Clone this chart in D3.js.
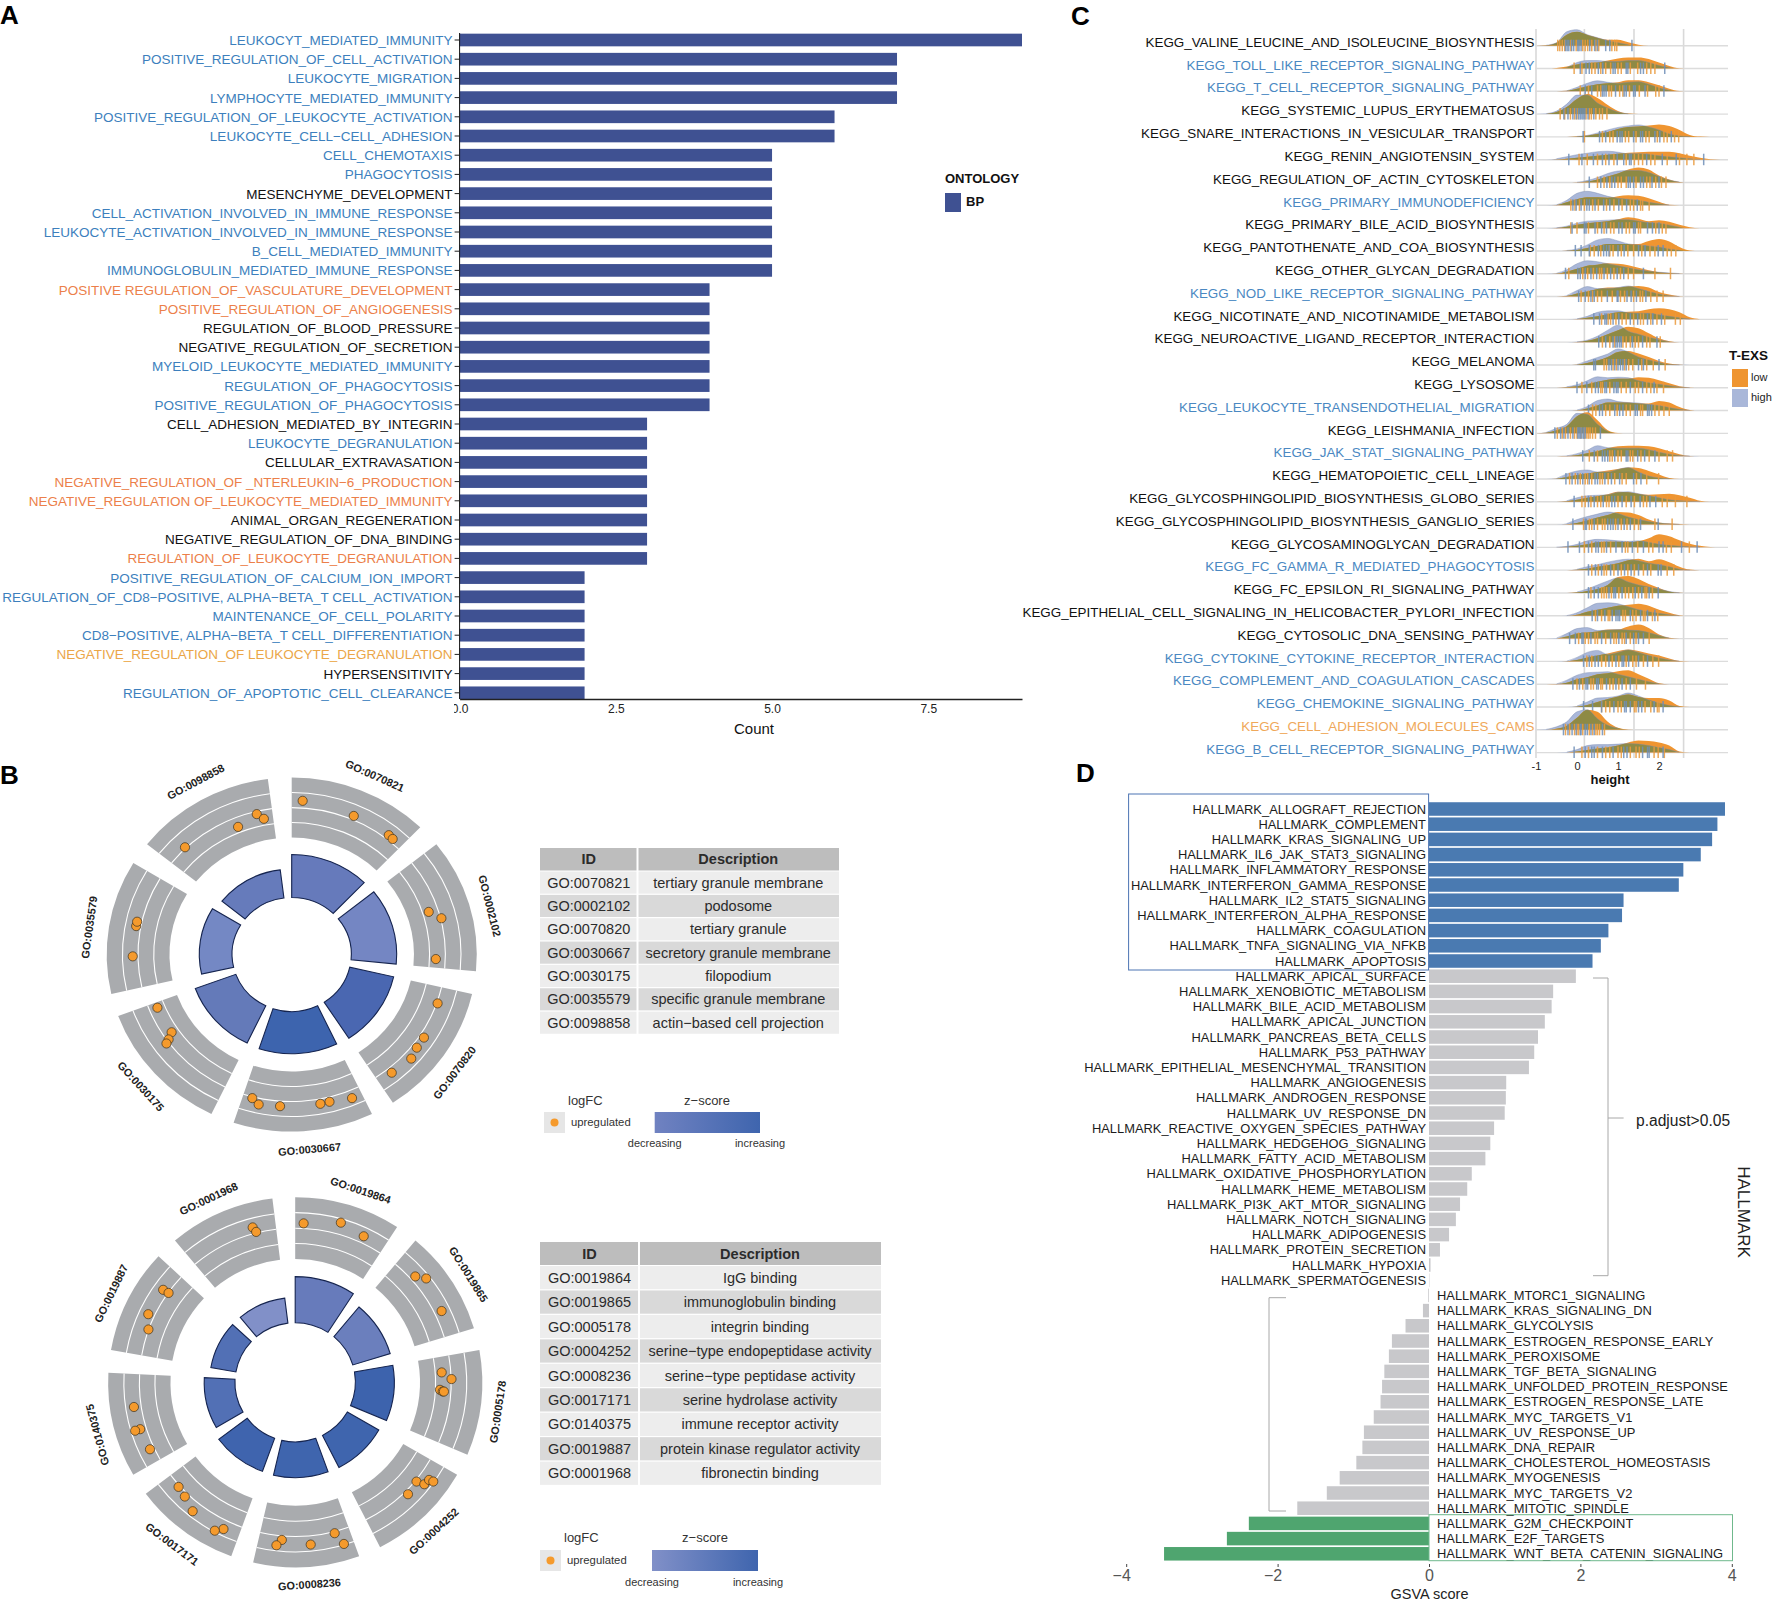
<!DOCTYPE html>
<html><head><meta charset="utf-8">
<script src="https://cdnjs.cloudflare.com/ajax/libs/d3/7.8.5/d3.min.js"></script>
<style>html,body{margin:0;padding:0;background:#fff}svg{display:block;font-family:"Liberation Sans",Arial,sans-serif}</style>
</head><body><svg id="c" width="1772" height="1600"></svg>
<script>
// ---------- Panel A ----------
const aTerms=["LEUKOCYT_MEDIATED_IMMUNITY","POSITIVE_REGULATION_OF_CELL_ACTIVATION","LEUKOCYTE_MIGRATION","LYMPHOCYTE_MEDIATED_IMMUNITY","POSITIVE_REGULATION_OF_LEUKOCYTE_ACTIVATION","LEUKOCYTE_CELL−CELL_ADHESION","CELL_CHEMOTAXIS","PHAGOCYTOSIS","MESENCHYME_DEVELOPMENT","CELL_ACTIVATION_INVOLVED_IN_IMMUNE_RESPONSE","LEUKOCYTE_ACTIVATION_INVOLVED_IN_IMMUNE_RESPONSE","B_CELL_MEDIATED_IMMUNITY","IMMUNOGLOBULIN_MEDIATED_IMMUNE_RESPONSE","POSITIVE REGULATION_OF_VASCULATURE_DEVELOPMENT","POSITIVE_REGULATION_OF_ANGIOGENESIS","REGULATION_OF_BLOOD_PRESSURE","NEGATIVE_REGULATION_OF_SECRETION","MYELOID_LEUKOCYTE_MEDIATED_IMMUNITY","REGULATION_OF_PHAGOCYTOSIS","POSITIVE_REGULATION_OF_PHAGOCYTOSIS","CELL_ADHESION_MEDIATED_BY_INTEGRIN","LEUKOCYTE_DEGRANULATION","CELLULAR_EXTRAVASATION","NEGATIVE_REGULATION_OF _NTERLEUKIN−6_PRODUCTION","NEGATIVE_REGULATION OF_LEUKOCYTE_MEDIATED_IMMUNITY","ANIMAL_ORGAN_REGENERATION","NEGATIVE_REGULATION_OF_DNA_BINDING","REGULATION_OF_LEUKOCYTE_DEGRANULATION","POSITIVE_REGULATION_OF_CALCIUM_ION_IMPORT","REGULATION_OF_CD8−POSITIVE, ALPHA−BETA_T CELL_ACTIVATION","MAINTENANCE_OF_CELL_POLARITY","CD8−POSITIVE, ALPHA−BETA_T CELL_DIFFERENTIATION","NEGATIVE_REGULATION_OF LEUKOCYTE_DEGRANULATION","HYPERSENSITIVITY","REGULATION_OF_APOPTOTIC_CELL_CLEARANCE"];
const aCounts=[9,7,7,7,6,6,5,5,5,5,5,5,5,4,4,4,4,4,4,4,3,3,3,3,3,3,3,3,2,2,2,2,2,2,2];
const aClass=["b","b","b","b","b","b","b","b","k","b","b","b","b","o","o","k","k","b","b","b","k","b","k","o","o","k","k","o","b","b","b","b","y","k","b"];
const aTicks=[0,2.5,5,7.5];
const termColors={b:"#3c7fbd",k:"#111",o:"#ec7f4a",y:"#eba648"};

// ---------- Panel C ----------
const cTerms=["KEGG_VALINE_LEUCINE_AND_ISOLEUCINE_BIOSYNTHESIS","KEGG_TOLL_LIKE_RECEPTOR_SIGNALING_PATHWAY","KEGG_T_CELL_RECEPTOR_SIGNALING_PATHWAY","KEGG_SYSTEMIC_LUPUS_ERYTHEMATOSUS","KEGG_SNARE_INTERACTIONS_IN_VESICULAR_TRANSPORT","KEGG_RENIN_ANGIOTENSIN_SYSTEM","KEGG_REGULATION_OF_ACTIN_CYTOSKELETON","KEGG_PRIMARY_IMMUNODEFICIENCY","KEGG_PRIMARY_BILE_ACID_BIOSYNTHESIS","KEGG_PANTOTHENATE_AND_COA_BIOSYNTHESIS","KEGG_OTHER_GLYCAN_DEGRADATION","KEGG_NOD_LIKE_RECEPTOR_SIGNALING_PATHWAY","KEGG_NICOTINATE_AND_NICOTINAMIDE_METABOLISM","KEGG_NEUROACTIVE_LIGAND_RECEPTOR_INTERACTION","KEGG_MELANOMA","KEGG_LYSOSOME","KEGG_LEUKOCYTE_TRANSENDOTHELIAL_MIGRATION","KEGG_LEISHMANIA_INFECTION","KEGG_JAK_STAT_SIGNALING_PATHWAY","KEGG_HEMATOPOIETIC_CELL_LINEAGE","KEGG_GLYCOSPHINGOLIPID_BIOSYNTHESIS_GLOBO_SERIES","KEGG_GLYCOSPHINGOLIPID_BIOSYNTHESIS_GANGLIO_SERIES","KEGG_GLYCOSAMINOGLYCAN_DEGRADATION","KEGG_FC_GAMMA_R_MEDIATED_PHAGOCYTOSIS","KEGG_FC_EPSILON_RI_SIGNALING_PATHWAY","KEGG_EPITHELIAL_CELL_SIGNALING_IN_HELICOBACTER_PYLORI_INFECTION","KEGG_CYTOSOLIC_DNA_SENSING_PATHWAY","KEGG_CYTOKINE_CYTOKINE_RECEPTOR_INTERACTION","KEGG_COMPLEMENT_AND_COAGULATION_CASCADES","KEGG_CHEMOKINE_SIGNALING_PATHWAY","KEGG_CELL_ADHESION_MOLECULES_CAMS","KEGG_B_CELL_RECEPTOR_SIGNALING_PATHWAY"];
const cClass=["k","b","b","k","k","k","k","b","k","k","k","b","k","k","k","k","b","k","b","k","k","k","k","b","k","k","k","b","b","b","y","b"];
const densityGrid=[-1,-.75,-.5,-.25,0,.25,.5,.75,1,1.25,1.5,1.75,2,2.25,2.5,2.75,3,3.25,3.5];
const densityHigh=[
[0,.5,3,14,16,11,8,5,3,1,0],[0,0,0,1,6,8,8,7,7,8,8,6,3,1,0],[0,0,0,.5,4,8,10.5,9,8,9,9.5,7,3.5,1,0],[0,.5,3,10,19,19,11,6,2,.3,0],
[0,0,0,0,.5,1.5,4,7,9.5,11,12,10,7,3,1,.2,0],[0,0,1,3,5,6.5,8,8.5,7.5,6,6,5.5,4,3,2,1,.3,0],[0,0,0,0,.2,2,5,9,11.5,12,12,10,6,2.5,.5,0],[0,0,.5,5,12,14,12,9,7,6,5,3,1.5,.3,0],
[0,0,.3,2,5,7,7.5,8,8.5,8.5,7,5.5,5,3,1,0],[0,0,0,.5,2,6,11,12.5,10,7,6,5,4,2,.6,0],[0,0,.5,4,10,13,12,10,8,6,4,2.5,1.5,.8,.2,0],[0,0,0,1,6,10,8,8,9,10.5,8,5,2.5,.8,.1,0],
[0,0,0,0,.5,3,7,8.5,8.5,6.5,6,6,4.5,3,1.5,.3,0],[0,0,0,0,.3,2,6,12,17,11,8,5,2.5,.5,0],[0,0,0,0,.5,4,7.5,11,16,13,8,5,2.5,.5,.1,0],[0,0,0,1,3,7,11,10,10.5,10,7,5,3.5,2,.7,.1,0],
[0,0,0,0,.5,4,10,11.5,9,8,7.5,6,5,3,1.2,.2,0],[0,1,5,9,20,19,9,2,0],[0,0,0,.3,2.5,6,10.5,8.5,8,8,8,6.5,4,2,.7,.1,0],[0,0,.5,5,8,9,7,7,9.5,11.5,7,3,1,.3,0],
[0,0,0,1,4,6,6.5,7,9.5,10,8,6,4,2,1,.5,.1,0],[0,0,0,1,5,8,10.5,12.5,11,7.5,5,3,1.5,.7,.2,0],[0,0,.2,1,3,6.5,8,7.5,6.5,6,6.5,5,3,2,1.2,.7,.3,0],[0,0,0,0,1,3.5,5.5,8,10,11,9.5,7,5.5,3.5,1,.1,0],
[0,0,0,0,1,4,8,12,15,11,8,6,4,1.5,.2,0],[0,0,0,.2,3,8,12.5,13,12,9,6,4,2.5,1,.1,0],[0,0,.5,5,10,11,8,8.5,9,8.5,8,6,3,.5,0],[0,0,0,.3,4,9,11,7,9,11.5,9,6,3.5,1.5,.2,0],
[0,0,.2,4,9,11.5,12,12.5,10,7.5,5,2.5,.5,0],[0,0,0,0,1,5,9,9.5,11,14,11,7,4,1.5,.2,0],[0,.5,3,8,18,20,11,4.5,1.5,0],[0,0,0,.5,3,7,8,8,8.5,9,8.5,7,5,3,.3,0]];
const densityLow=[
[0,.5,3,11,14,11,8,6,6,3.5,1,0],[0,0,.5,2,4,5.5,6,8,10,11,11,9.5,6,2.5,.3,0],[0,0,0,.5,2.5,5,7,8,9,11,11,9,6,2.5,.3,0],[0,.2,2,7,15,20,16,9,3,.5,0],
[0,0,0,0,.5,1.5,3,5,8,10,10.5,11.5,12.5,11,7,2,.3,0],[0,0,.3,1,2,3,4,5,6,7,7.5,8,8,8,6.5,4,2,.5,0],[0,0,0,0,.2,1,3,6,9,13,15,13,7,3,.6,0],[0,0,.3,3,6,8,8,7.5,9,10,9.5,7,3.5,.5,0],
[0,0,.2,1.5,3.5,5,6,7,9,11,9.5,7,8,6.5,3.5,1,0],[0,0,0,.3,1,3,5,7,7,7,7,10,12,9.5,4,.5,0],[0,0,.2,2,5,8,9,10.5,10,8.5,6,3.5,1.5,.8,.2,0],[0,0,0,.5,3,5,7.5,9,9,10,10.5,9,4.5,2,.3,0],
[0,0,0,0,.3,1.5,3,5,7,7.5,8,10,11,10,7,2,.2,0],[0,0,0,0,.2,1.5,4,8,12,15.5,14,9,4,1,0],[0,0,0,0,.2,2,4.5,8,13,14,11.5,8,4,1.5,.3,0],[0,0,0,.5,1.5,3.5,6,8,9,9,10.5,10,7.5,4.5,1.5,.2,0],
[0,0,0,0,.2,2,5,8,8,8,7,7,9.5,8,3.5,.6,0],[0,.5,3,7,17,21,13,3,.3,0],[0,0,0,.1,1,3,5,8,10,10.5,10.5,10,8,5,2,.2,0],[0,0,.3,2,4,5.5,7,8.5,10,11.5,11,8,4.5,1,0],
[0,0,0,.5,2,4,5.5,7.5,10,9.5,8,7,7.5,8,6.5,4,1,0],[0,0,0,.3,1.5,4,7,9.5,12.5,12,9.5,5,2,1,.5,.1,0],[0,0,.1,.5,1.5,3,5,5.5,5.5,5,6,9,13,11,7,3.5,1.5,.3,0],[0,0,0,0,.5,1.5,3.5,5,7,10,11.5,9,11,8,3.5,.6,0],
[0,0,0,0,.4,2,4,8,16,17,14,9,5,1.5,.2,0],[0,0,0,.1,1,4,6,8,10,11,12,10,6,3,.5,0],[0,0,.2,2,5,6,7,9,9,12,14,10.5,4,.8,0],[0,0,0,.2,1.5,4,6,8,10.5,12,10.5,8,6,3,.5,0],
[0,0,.1,1.5,5,7,10,11,13,14,10,5.5,1,0],[0,0,0,0,.3,2,5,8,10.5,12.5,10,9,9,6.5,1,0],[0,.1,1,4,12,20,18,8,2,.3,0],[0,0,0,.2,1,2.5,4,5,7,10,12,11.5,10,7,1,0]];
const rugHigh=[
[-.28,-.24,-.2,-.13,-.08,.02,.05,.1,.31,.43,.5,.7,.8,1.34],[.08,.22,.3,.52,.63,.88,.93,1.2,1.24,1.55,1.62,2.14],[.2,.36,.62,.66,.71,.94,1.15,1.2,1.38,1.42,1.66,2.12],[-.32,-.22,-.1,-.02,.04,.08,.12,.15,.19,.27,.41],
[.15,.55,.7,.98,1.05,1.1,1.38,1.55,1.6,1.9,2.02,2.3],[-.2,.12,.4,.62,.78,.98,1.14,1.28,1.32,1.7,2.08,2.42,3.09],[.3,.58,.73,.85,.92,1.25,1.3,1.38,1.55,1.62,1.83,2.0],[-.1,-.02,.1,.24,.3,.44,.65,.8,1.02,1.21,1.47],
[-.12,.18,.22,.44,.6,.72,1.02,1.1,1.38,1.42,1.72,1.84,2.0],[-.04,.1,.3,.52,.65,.72,.78,1.0,1.15,1.5,1.66,1.98,2.1],[-.28,.02,.08,.2,.34,.48,.66,.82,.98,1.14,1.62],[.04,.2,.34,.42,.74,.98,1.0,1.22,1.32,1.45,1.68],
[.41,.55,.68,.72,.88,1.02,1.3,1.48,1.72,1.85,2.06],[.53,.7,.88,.95,.99,1.04,1.08,1.35,1.6,1.95],[.41,.45,.78,.84,.92,1.0,1.06,1.12,1.2,1.5,1.62,2.0],[0,.24,.45,.52,.68,.72,.9,.96,1.0,1.3,1.6,1.88],
[.28,.55,.62,.92,1.04,1.12,1.42,1.47,1.72,1.76,1.82],[-.54,-.4,-.32,-.22,-.1,.02,.05,.08,.12,.16,.2,.57],[.14,.42,.62,.68,.75,.92,1.2,1.24,1.48,1.65,1.9],[-.27,-.12,.02,.14,.3,.44,.5,.68,.84,1.04,1.38,1.56],
[-.07,.28,.42,.64,.85,.92,1.1,1.32,1.54,1.78,1.92],[-.1,.2,.23,.42,.75,.82,.88,1.0,1.15,1.3,1.55,1.98],[-.22,.06,.28,.46,.52,.72,.95,1.1,1.35,1.62,2.0,2.1,2.55,2.93],[.28,.45,.6,.82,1.0,1.16,1.32,1.5,1.72,1.98,2.05],
[.28,.42,.52,.78,.9,.94,1.1,1.42,1.58,1.76,1.98],[.37,.5,.68,.86,.95,1.0,1.04,1.3,1.55,1.72,1.9],[-.18,-.04,.12,.15,.34,.6,.82,1.02,1.2,1.38,1.5,1.62],[.16,.3,.44,.52,.78,.95,1.1,1.14,1.26,1.5,1.72],
[-.1,.06,.22,.26,.48,.52,.72,.95,1.1,1.3],[.16,.38,.6,.9,1.16,1.2,1.3,1.5,1.58,1.88,2.1],[-.33,-.22,-.12,-.02,.08,.1,.2,.25,.34,.42,.62],[-.07,.2,.36,.42,.62,.88,1.14,1.22,1.6,1.72,1.76,2.1]];
const rugLow=[
[-.47,-.42,-.36,-.3,-.15,-.02,.14,.2,.26,.36,.46,.53,.85,.92,.97],[-.07,.12,.36,.44,.58,.7,.82,1.0,1.08,1.3,1.48,1.7,1.8,1.9],[.08,.28,.5,.58,.78,.84,1.04,1.12,1.28,1.52,1.72,1.92,2.0],[-.41,-.3,-.16,-.06,.0,.22,.3,.35,.46,.55,.62,.73],
[.18,.62,.8,.88,1.18,1.26,1.44,1.68,1.76,1.96,2.12,2.2,2.38,2.48],[.05,.25,.5,.7,.9,1.2,1.4,1.5,1.6,1.8,1.9,2.2,2.5,2.68,2.85],[.5,.66,.8,1.0,1.08,1.2,1.44,1.7,1.78,1.92,2.06,2.17],[-.15,-.05,.06,.18,.38,.52,.72,.9,1.1,1.3,1.38,1.55,1.6,1.76],
[-.15,.0,.28,.5,.66,.82,.9,1.2,1.28,1.5,1.55,1.92,2.08,2.17],[.32,.42,.58,.8,.88,1.08,1.24,1.38,1.58,1.78,1.9,2.2,2.3,2.41],[-.2,.14,.26,.4,.55,.6,.74,.9,1.06,1.25,1.38,1.9,2.28],[.1,.28,.38,.5,.6,.86,1.06,1.16,1.38,1.54,1.6,1.8,1.95,2.1],
[.6,.76,.82,.95,1.1,1.2,1.38,1.55,1.62,1.8,1.95,2.14,2.4,2.52],[.62,.8,.92,1.12,1.2,1.3,1.42,1.5,1.7,1.78,2.03],[.66,.72,.88,.96,1.16,1.26,1.36,1.58,1.7,1.86,2.15],[.12,.36,.58,.62,.8,1.08,1.2,1.42,1.5,1.7,1.8,1.95,2.11],
[.38,.46,.7,.8,.98,1.2,1.3,1.55,1.6,1.9,2.0,2.12,2.25],[-.48,-.36,-.28,-.16,-.06,.0,.1,.18,.24,.28,.32,.38,.45],[.3,.5,.8,.86,1.0,1.08,1.3,1.36,1.56,1.76,2.0,2.2,2.33],[-.18,-.04,.08,.2,.26,.36,.56,.62,.76,.92,1.1,1.2,1.45,1.7,1.99],
[.12,.2,.34,.5,.58,.72,.78,1.0,1.2,1.4,1.62,1.7,2.08,2.2,2.4,2.68],[.16,.3,.36,.5,.62,.68,.94,1.08,1.22,1.4,1.5,1.9,2.32],[.18,.36,.6,.66,.82,1.18,1.24,1.48,1.75,1.85,2.18,2.3,2.74],[.36,.52,.66,.72,.9,1.08,1.24,1.4,1.62,1.8,2.2,2.36],
[.34,.6,.66,.72,.84,1.02,1.18,1.26,1.36,1.5,1.66,1.7,1.84],[.45,.6,.76,.8,1.12,1.18,1.36,1.44,1.62,1.66,1.84,1.97],[.04,.2,.28,.44,.5,.7,.9,.96,1.1,1.16,1.3,1.44,1.76],[.24,.36,.6,.7,.86,1.02,1.2,1.36,1.44,1.62,1.85,1.99],
[.0,.14,.34,.4,.58,.62,.8,.88,1.02,1.2,1.45,1.67],[.6,.7,.8,1.0,1.08,1.4,1.44,1.66,1.8,1.96,2.0],[-.28,-.18,-.06,.0,.04,.14,.3,.38,.46,.5,.55,.67],[.12,.28,.5,.7,.8,1.0,1.08,1.3,1.44,1.52,1.88,1.98,2.13]];
const cGridValues=[-1,.18,1.39,2.6];
const cTicks=[-1,0,1,2];

// ---------- Panel B ----------
const circleA={ids:["GO:0070821","GO:0002102","GO:0070820","GO:0030667","GO:0030175","GO:0035579","GO:0098858"],
 desc:["tertiary granule membrane","podosome","tertiary granule","secretory granule membrane","filopodium","specific granule membrane","actin−based cell projection"],
 heights:[.565,.568,.565,.56,.555,.5,.482],
 fills:["#667abb","#7486c3","#4a67b1","#3d64ae","#647ab9","#7488c4","#667bbb"],
 labelAngles:[24,75.6,127.2,175,227.6,278,332],
 geneAngles:[[3.9,23.2,37.9,39.9],[72,75.8,91.9],[109.3,123.3,127.9,132.3,141],[158.1,166.2,169.6,184.2,191.9,194.7],[247.5,235.9,234.2,233.4],[269.3,280.8,282.5],[316.4,338.1,346.6,348.9]],
 geneLogFC:[[2.47,2.25,2.28,2.24],[1.39,2.05,1.4],[2.06,2.29,2.31,2.51,2.34],[2.52,2.31,2.32,2.34,2.42,2.1],[1.47,1.45,1.88,2.15],[2.34,2.3,2.3],[2.07,1.37,1.82,1.42]]};
const circleB={ids:["GO:0019864","GO:0019865","GO:0005178","GO:0004252","GO:0008236","GO:0017171","GO:0140375","GO:0019887","GO:0001968"],
 desc:["IgG binding","immunoglobulin binding","integrin binding","serine−type endopeptidase activity","serine−type peptidase activity","serine hydrolase activity","immune receptor activity","protein kinase regulator activity","fibronectin binding"],
 heights:[.571,.531,.53,.516,.515,.512,.487,.458,.458],
 fills:["#677bbb","#6b7fbd","#3d63ad","#3f65ae","#3f65ae","#3f64ae","#5270b5","#5270b5","#8190c8"],
 labelAngles:[18.6,57.8,98.4,137.4,176,217,255,296,335],
 geneAngles:[[3,15.8,24.9],[48.3,51.3,63.8],[86.1,88.8,93,93.6,93.6],[129.6,128.6,126.4,126,135.1],[163.4,165.5,174.6,184.8,186.5],[205.8,208.2,218.2,223.7,227.8],[245,253,253,261.2],[290,295.1,305.3,305.5],[344.8,345.6]],
 geneLogFC:[[2.32,2.76,2.44],[2.32,2.77,2.47],[1.42,2.03,1.3,1.48,1.56],[2.1,2.6,2.67,2.95,2.25],[2.94,2.11,2.57,2.26,2.64],[2.57,2.92,2.64,2.25,2.1],[2.28,2.4,2.74,2.47],[2.02,2.41,2.38,1.98],[2.41,2.07]]};

// ---------- Panel D ----------
const dTerms=["ALLOGRAFT_REJECTION","COMPLEMENT","KRAS_SIGNALING_UP","IL6_JAK_STAT3_SIGNALING","INFLAMMATORY_RESPONSE","INTERFERON_GAMMA_RESPONSE","IL2_STAT5_SIGNALING","INTERFERON_ALPHA_RESPONSE","COAGULATION","TNFA_SIGNALING_VIA_NFKB","APOPTOSIS","APICAL_SURFACE","XENOBIOTIC_METABOLISM","BILE_ACID_METABOLISM","APICAL_JUNCTION","PANCREAS_BETA_CELLS","P53_PATHWAY","EPITHELIAL_MESENCHYMAL_TRANSITION","ANGIOGENESIS","ANDROGEN_RESPONSE","UV_RESPONSE_DN","REACTIVE_OXYGEN_SPECIES_PATHWAY","HEDGEHOG_SIGNALING","FATTY_ACID_METABOLISM","OXIDATIVE_PHOSPHORYLATION","HEME_METABOLISM","PI3K_AKT_MTOR_SIGNALING","NOTCH_SIGNALING","ADIPOGENESIS","PROTEIN_SECRETION","HYPOXIA","SPERMATOGENESIS","MTORC1_SIGNALING","KRAS_SIGNALING_DN","GLYCOLYSIS","ESTROGEN_RESPONSE_EARLY","PEROXISOME","TGF_BETA_SIGNALING","UNFOLDED_PROTEIN_RESPONSE","ESTROGEN_RESPONSE_LATE","MYC_TARGETS_V1","UV_RESPONSE_UP","DNA_REPAIR","CHOLESTEROL_HOMEOSTASIS","MYOGENESIS","MYC_TARGETS_V2","MITOTIC_SPINDLE","G2M_CHECKPOINT","E2F_TARGETS","WNT_BETA_CATENIN_SIGNALING"];
const dScores=[3.91,3.81,3.74,3.59,3.36,3.30,2.57,2.55,2.37,2.27,2.16,1.94,1.64,1.62,1.53,1.44,1.39,1.32,1.02,1.015,1.0,.86,.81,.745,.565,.505,.41,.355,.265,.145,.02,.005,-.01,-.08,-.31,-.49,-.53,-.59,-.62,-.64,-.73,-.86,-.88,-.96,-1.18,-1.35,-1.74,-2.38,-2.67,-3.5];
const dTicks=[-4,-2,0,2,4];

const svg=d3.select("#c");
svg.append("rect").attr("width",1772).attr("height",1600).attr("fill","#fff");
const defs=svg.append("defs");
function letter(t,x,y){svg.append("text").attr("x",x).attr("y",y).attr("font-size",26).attr("font-weight","bold").attr("fill","#000").text(t);}
letter("A",0,24);letter("B",0,784);letter("C",1071,25);letter("D",1076,782);

// ---- A ----
(function(){
 const x=d3.scaleLinear([0,9],[459.6,1022]);
 const y=d3.scaleBand(aTerms,[30.4,702.4]).paddingInner(.34).paddingOuter(.17);
 const g=svg.append("g");
 g.selectAll("rect").data(aTerms).join("rect").attr("x",x(0)).attr("y",d=>y(d)).attr("width",(d,i)=>x(aCounts[i])-x(0)).attr("height",y.bandwidth()).attr("fill","#3f5192");
 const la=g.append("g").attr("transform",`translate(${x(0)},0)`).call(d3.axisLeft(y).tickSize(5).tickPadding(2).tickSizeOuter(0));
 la.select(".domain").attr("d","M0,33V699").attr("stroke","#111").attr("stroke-width",1);
 la.selectAll(".tick line").attr("stroke","#222");
 la.selectAll(".tick text").attr("font-size",13.5).attr("font-family","inherit").attr("y",.6).attr("fill",(d,i)=>termColors[aClass[i]]);
 const ba=g.append("g").attr("transform","translate(0,699)").call(d3.axisBottom(x).tickValues(aTicks).tickFormat(d3.format(".1f")).tickSize(0).tickPadding(5));
 ba.select(".domain").attr("stroke","#222").attr("stroke-width",1.5);
 ba.selectAll("text").attr("font-size",12).attr("font-family","inherit").attr("fill","#222");
 ba.selectAll(".tick").filter(d=>d===0).select("text").attr("clip-path","url(#a0b)");
 defs.append("clipPath").attr("id","a0b").append("rect").attr("x",-6).attr("y",-5).attr("width",30).attr("height",30);
 svg.append("text").attr("x",754).attr("y",734).attr("text-anchor","middle").attr("font-size",15).attr("fill","#111").text("Count");
 svg.append("text").attr("x",945).attr("y",183).attr("font-size",13).attr("font-weight","bold").attr("fill","#111").text("ONTOLOGY");
 svg.append("rect").attr("x",945).attr("y",193).attr("width",16).attr("height",19).attr("fill","#3f5192");
 svg.append("text").attr("x",966).attr("y",206).attr("font-size",13).attr("font-weight","bold").attr("fill","#111").text("BP");
})();

// ---- C ----
(function(){
 const x=d3.scaleLinear([-1,2],[1536,1659]);
 const y=d3.scalePoint(cTerms,[45.7,752.6]);
 const h=d3.scaleLinear([0,1],[0,-1]);
 defs.append("clipPath").attr("id","cp").append("rect").attr("x",1530).attr("y",29).attr("width",242).attr("height",760);
 const g=svg.append("g").attr("clip-path","url(#cp)");
 g.selectAll("line.v").data(cGridValues).join("line").attr("class","v").attr("x1",d=>x(d)).attr("x2",d=>x(d)).attr("y1",28).attr("y2",758).attr("stroke","#d9d9d9").attr("stroke-width",1.6);
 g.selectAll("line.h").data(cTerms).join("line").attr("class","h").attr("x1",1535).attr("x2",1728).attr("y1",d=>y(d)).attr("y2",d=>y(d)).attr("stroke","#dcdcdc").attr("stroke-width",1.4);
 const area=d3.area().x((d,i)=>x(densityGrid[i])).y0(0).y1(d=>h(d)).curve(d3.curveMonotoneX);
 const ridge=d3.line().x((d,i)=>x(densityGrid[i])).y(d=>h(d)).defined(d=>d>0).curve(d3.curveMonotoneX);
 const pad=a=>densityGrid.map((_,i)=>a[i]||0);
 const blue="#a9b7d9",orange="#ef9531",olive="#8e8a45";
 cTerms.forEach((t,i)=>{
  const r=g.append("g").attr("transform",`translate(0,${y(t)})`);
  const bp=area(pad(densityHigh[i])),op=area(pad(densityLow[i]));
  defs.append("clipPath").attr("id","rc"+i).append("path").attr("d",op);
  r.append("path").attr("d",bp).attr("fill",blue);
  r.append("path").attr("d",op).attr("fill",orange);
  r.append("path").attr("d",bp).attr("fill",olive).attr("clip-path",`url(#rc${i})`);
  r.append("path").attr("d",ridge(pad(densityHigh[i]))).attr("fill","none").attr("stroke","#7888ad").attr("stroke-width",.6).attr("opacity",.7);
  r.selectAll("line.l").data(rugLow[i]).join("line").attr("class","l").attr("x1",d=>x(d)).attr("x2",d=>x(d)).attr("y1",-6).attr("y2",5.5).attr("stroke","#ea9a3c").attr("stroke-width",1.5).attr("opacity",.85);
  r.selectAll("line.h2").data(rugHigh[i]).join("line").attr("class","h2").attr("x1",d=>x(d)).attr("x2",d=>x(d)).attr("y1",-6).attr("y2",5.5).attr("stroke","#6f8fb8").attr("stroke-width",1.5).attr("opacity",.85);
 });
 svg.append("g").selectAll("text").data(cTerms).join("text").attr("x",1534.5).attr("y",d=>y(d)-3.5).attr("dy",".35em").attr("text-anchor","end").attr("font-size",13.4).attr("fill",(d,i)=>cClass[i]==="b"?"#4a88c2":cClass[i]==="y"?"#efa85a":"#111").text(d=>d);
 const ax=svg.append("g").attr("transform","translate(0,760)").call(d3.axisBottom(x).tickValues(cTicks).tickFormat(d=>String(d)).tickSize(0).tickPadding(2));
 ax.select(".domain").remove();
 ax.selectAll("text").attr("font-size",11).attr("font-family","inherit").attr("fill","#222");
 svg.append("text").attr("x",1610).attr("y",784).attr("text-anchor","middle").attr("font-size",13).attr("font-weight","bold").attr("fill","#111").text("height");
 svg.append("text").attr("x",1729).attr("y",360).attr("font-size",13.5).attr("font-weight","bold").attr("fill","#111").text("T-EXS");
 svg.append("rect").attr("x",1732).attr("y",369).attr("width",16).attr("height",18).attr("fill",orange);
 svg.append("rect").attr("x",1732).attr("y",389).attr("width",16).attr("height",18).attr("fill",blue);
 svg.append("text").attr("x",1751).attr("y",381).attr("font-size",11).attr("fill","#222").text("low");
 svg.append("text").attr("x",1751).attr("y",401).attr("font-size",11).attr("fill","#222").text("high");
})();

// ---- B ----
function goCircle(d,cx,cy,rx,ry,sector,ringIn,labelR){
 const n=d.ids.length,step=360/n,rad=Math.PI/180;
 const logR=d3.scaleLinear([0,4],[ringIn,1]);
 const g=svg.append("g").attr("transform",`translate(${cx},${cy})`);
 const q=g.append("g").attr("transform",`scale(${rx},${ry})`);
 const arc=d3.arc();
 d.ids.forEach((id,i)=>{
  const a0=i*step*rad,a1=(i*step+sector)*rad;
  q.append("path").attr("d",arc({innerRadius:ringIn,outerRadius:1,startAngle:a0,endAngle:a1})).attr("fill","#a9abae");
  [1,2,3].forEach(v=>{
   const r=logR(v);
   q.append("path").attr("d",d3.arc()({innerRadius:r,outerRadius:r,startAngle:a0,endAngle:a1})).attr("fill","none").attr("stroke","#fff").attr("stroke-width",1.1).attr("vector-effect","non-scaling-stroke");
  });
  q.append("path").attr("d",arc({innerRadius:.322,outerRadius:d.heights[i],startAngle:a0,endAngle:a1})).attr("fill",d.fills[i]).attr("stroke","#15244f").attr("stroke-width",1.1).attr("vector-effect","non-scaling-stroke");
 });
 d.ids.forEach((id,i)=>{
  d.geneAngles[i].forEach((ang,j)=>{
   const r=logR(d.geneLogFC[i][j]);
   g.append("circle").attr("cx",Math.sin(ang*rad)*r*rx).attr("cy",-Math.cos(ang*rad)*r*ry).attr("r",4.6).attr("fill","#f59a2c").attr("stroke","#3a3020").attr("stroke-width",.7);
  });
  const mid=d.labelAngles[i];
  const rot=mid<90?mid:(mid<250?mid-180:mid-360);
  const lx=Math.sin(mid*rad)*labelR*rx,ly=-Math.cos(mid*rad)*labelR*ry;
  g.append("text").attr("transform",`translate(${lx},${ly}) rotate(${rot})`).attr("text-anchor","middle").attr("dy",".35em").attr("font-size",10.9).attr("font-weight","bold").attr("fill","#222").text(id);
 });
}
goCircle(circleA,291.7,954.5,185,177,44,.661,1.105);
goCircle(circleB,295.2,1382.3,187,185,33,.667,1.095);

function goTable(d,x0,x1,x2,top,hh,rowH,gap){
 const g=svg.append("g");
 const rows=d.ids.map((id,i)=>({id,desc:d.desc[i]}));
 const cell=(xa,xb,y,h,fill)=>g.append("rect").attr("x",xa).attr("y",y).attr("width",xb-xa).attr("height",h).attr("fill",fill);
 const txt=(xx,y,t,b)=>g.append("text").attr("x",xx).attr("y",y).attr("dy",".35em").attr("text-anchor","middle").attr("font-size",14.5).attr("font-weight",b?"bold":"normal").attr("fill","#2b2b2b").text(t);
 cell(x0,x1-1,top,hh,"#bdbdbd");cell(x1+1,x2,top,hh,"#bdbdbd");
 txt((x0+x1)/2,top+hh/2,"ID",true);txt((x1+x2)/2,top+hh/2,"Description",true);
 rows.forEach((r,i)=>{
  const y=top+hh+1+i*rowH,f=i%2?"#d9d9d9":"#ededed";
  cell(x0,x1-1,y,rowH-gap,f);cell(x1+1,x2,y,rowH-gap,f);
  txt((x0+x1)/2,y+(rowH-gap)/2,r.id,false);txt((x1+x2)/2,y+(rowH-gap)/2,r.desc,false);
 });
}
goTable(circleA,540,637.5,839,848,22.5,23.35,1.2);
goTable(circleB,540,639,881,1242,23,24.45,1.2);

function goLegend(id,kx,ky,tx,ux,gx0,gx1,c0,c1,zx,topY,botY){
 const gr=defs.append("linearGradient").attr("id",id);
 gr.append("stop").attr("offset","0%").attr("stop-color",c0);
 gr.append("stop").attr("offset","100%").attr("stop-color",c1);
 const t=(x,y,s,fs,a)=>svg.append("text").attr("x",x).attr("y",y).attr("dy",".35em").attr("font-size",fs).attr("text-anchor",a||"start").attr("fill","#333").text(s);
 t(tx,topY,"logFC",13);t(zx,topY,"z−score",13,"middle");
 svg.append("rect").attr("x",kx).attr("y",ky).attr("width",21).attr("height",21).attr("fill","#e6e6e6");
 svg.append("circle").attr("cx",kx+10.5).attr("cy",ky+10.5).attr("r",4).attr("fill","#f59a2c");
 t(ux,ky+10.5,"upregulated",11.3);
 svg.append("rect").attr("x",gx0).attr("y",ky).attr("width",gx1-gx0).attr("height",21).attr("fill",`url(#${id})`);
 t(gx0,botY,"decreasing",11,"middle");t(gx1,botY,"increasing",11,"middle");
}
goLegend("lg1",544,1112,568,571,654.7,760,"#7082c1","#3f65ae",707,1100,1143);
goLegend("lg2",540,1550,564,567,652,758,"#8190c8","#3f65ae",705,1537,1582);

// ---- D ----
(function(){
 const x=d3.scaleLinear([-4,4],[1126.2,1731.8]);
 const y=d3.scaleBand(dTerms,[801.4,1561.4]).paddingInner(.11).paddingOuter(.055);
 const colour=i=>i<11?"#4a7ab1":i>=47?"#4fa56f":"#c8c8cb";
 svg.append("g").selectAll("rect").data(dTerms).join("rect")
  .attr("x",(d,i)=>x(Math.min(0,dScores[i]))).attr("y",d=>y(d)).attr("width",(d,i)=>Math.abs(x(dScores[i])-x(0))).attr("height",y.bandwidth()).attr("fill",(d,i)=>colour(i));
 svg.append("g").selectAll("text").data(dTerms).join("text")
  .attr("x",(d,i)=>dScores[i]>=0?1426:1437).attr("y",d=>y(d)+y.bandwidth()/2).attr("dy",".35em")
  .attr("text-anchor",(d,i)=>dScores[i]>=0?"end":"start").attr("font-size",12.9).attr("fill","#1c1c1c").text(d=>"HALLMARK_"+d);
 svg.append("rect").attr("x",1128.6).attr("y",794).attr("width",300).attr("height",176).attr("fill","none").attr("stroke","#4d74b3").attr("stroke-width",1);
 svg.append("rect").attr("x",1429).attr("y",1514.7).attr("width",303.5).attr("height",46).attr("fill","none").attr("stroke","#6fb88c").attr("stroke-width",1);
 const br=svg.append("g").attr("fill","none").attr("stroke","#a8a8a8").attr("stroke-width",1);
 br.append("path").attr("d","M1593,978H1608V1275.7H1593M1608,1118H1623.6");
 br.append("path").attr("d","M1286,1297.7H1269V1511H1286");
 svg.append("text").attr("x",1636).attr("y",1121).attr("dy",".35em").attr("font-size",15.6).attr("fill","#222").text("p.adjust>0.05");
 svg.append("text").attr("transform","translate(1738,1212) rotate(90)").attr("text-anchor","middle").attr("font-size",17).attr("fill","#222").text("HALLMARK");
 const ax=svg.append("g").attr("transform","translate(0,1564)").call(d3.axisBottom(x).tickValues(dTicks).tickSize(3).tickPadding(3));
 ax.select(".domain").remove();
 ax.selectAll("line").attr("stroke","#444");
 ax.selectAll("text").attr("font-size",16).attr("font-family","inherit").attr("fill","#555").attr("dx",d=>d<0?-5:0);
 svg.append("text").attr("x",1429.5).attr("y",1598.5).attr("text-anchor","middle").attr("font-size",14.5).attr("fill","#222").text("GSVA score");
})();
</script></body></html>
